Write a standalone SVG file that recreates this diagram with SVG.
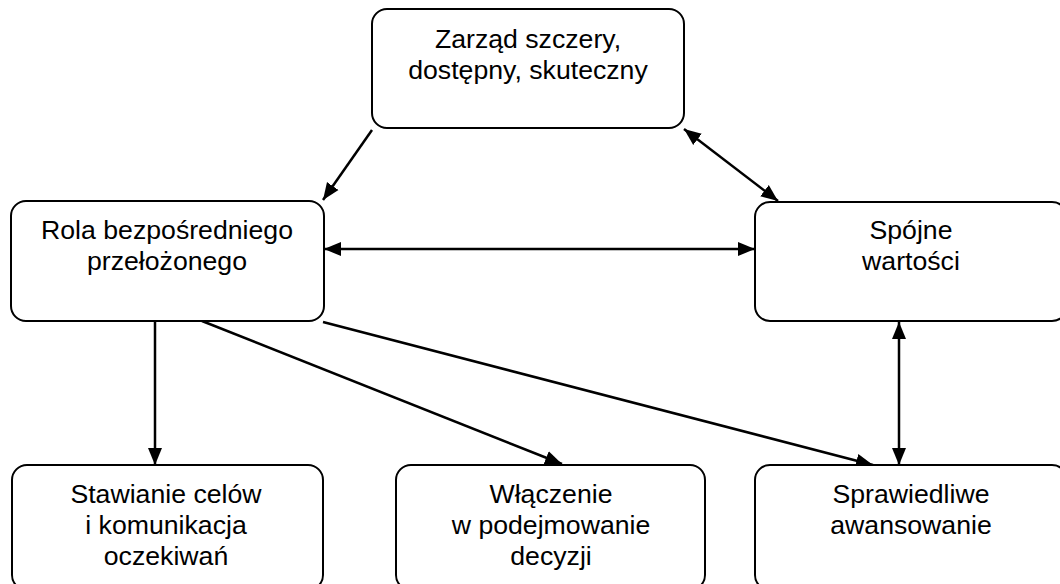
<svg xmlns="http://www.w3.org/2000/svg" width="1060" height="584" viewBox="0 0 1060 584">
  <style>
    .box { fill: #ffffff; stroke: #000000; stroke-width: 2; }
    .lbl { font-family: "Liberation Sans", Arial, sans-serif; font-size: 26.67px; fill: #000000; text-anchor: middle; }
    .conn { stroke: #000000; stroke-width: 2.5; fill: none; }
  </style>
  <defs>
    <marker id="arr" markerUnits="userSpaceOnUse" markerWidth="18" markerHeight="16" viewBox="0 0 18 16" refX="17" refY="8" orient="auto-start-reverse">
      <path d="M0,1 L17,8 L0,15 z" fill="#000000"/>
    </marker>
  </defs>
  <rect width="1060" height="584" fill="#ffffff"/>
  <g id="connectors">
    <line class="conn" x1="372" y1="130" x2="323" y2="200" marker-end="url(#arr)"/>
    <line class="conn" x1="684" y1="129" x2="778" y2="201" marker-start="url(#arr)" marker-end="url(#arr)"/>
    <line class="conn" x1="324" y1="249" x2="755" y2="249" marker-start="url(#arr)" marker-end="url(#arr)"/>
    <line class="conn" x1="155" y1="321" x2="155" y2="465" marker-end="url(#arr)"/>
    <line class="conn" x1="202" y1="321" x2="562" y2="464" marker-end="url(#arr)"/>
    <line class="conn" x1="323" y1="322" x2="873" y2="465" marker-end="url(#arr)"/>
    <line class="conn" x1="899" y1="322" x2="899" y2="465" marker-start="url(#arr)" marker-end="url(#arr)"/>
  </g>
  <g id="zarzad">
    <rect class="box" x="372" y="9" width="312" height="119" rx="15" ry="15"/>
    <text class="lbl" x="528" y="48">Zarząd szczery,</text>
    <text class="lbl" x="528" y="79">dostępny, skuteczny</text>
  </g>
  <g id="rola">
    <rect class="box" x="11" y="201" width="313" height="120" rx="15" ry="15"/>
    <text class="lbl" x="167" y="239">Rola bezpośredniego</text>
    <text class="lbl" x="167" y="270">przełożonego</text>
  </g>
  <g id="spojne">
    <rect class="box" x="755" y="202" width="312" height="119" rx="15" ry="15"/>
    <text class="lbl" x="911" y="239">Spójne</text>
    <text class="lbl" x="911" y="270">wartości</text>
  </g>
  <g id="stawianie">
    <rect class="box" x="12" y="465" width="311" height="125" rx="15" ry="15"/>
    <text class="lbl" x="166" y="503">Stawianie celów</text>
    <text class="lbl" x="166" y="534">i komunikacja</text>
    <text class="lbl" x="166" y="565">oczekiwań</text>
  </g>
  <g id="wlaczenie">
    <rect class="box" x="396" y="465" width="309" height="125" rx="15" ry="15"/>
    <text class="lbl" x="551" y="503">Włączenie</text>
    <text class="lbl" x="551" y="534">w podejmowanie</text>
    <text class="lbl" x="551" y="565">decyzji</text>
  </g>
  <g id="sprawiedliwe">
    <rect class="box" x="755" y="465" width="312" height="125" rx="15" ry="15"/>
    <text class="lbl" x="911" y="503">Sprawiedliwe</text>
    <text class="lbl" x="911" y="534">awansowanie</text>
  </g>
</svg>
